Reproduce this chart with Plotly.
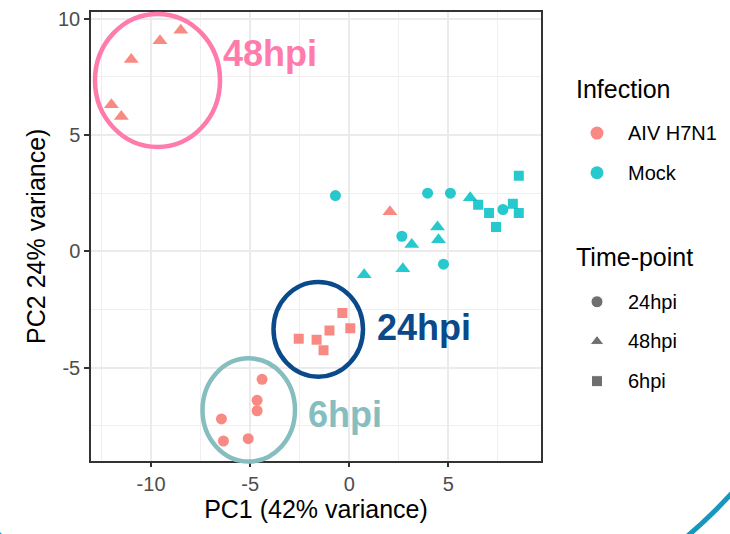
import plotly.graph_objects as go

W, H = 730, 534

# ---- data ----
aiv_48_x = [-11.0, -9.55, -8.5, -12.0, -11.5, 2.05]
aiv_48_y = [8.25, 9.05, 9.5, 6.3, 5.8, 1.7]
aiv_24_x = [-4.4, -4.65, -4.65, -6.45, -6.35, -5.1]
aiv_24_y = [-5.5, -6.4, -6.85, -7.2, -8.15, -8.05]
aiv_6_x = [-0.35, -1.0, 0.05, -1.65, -1.3, -2.55]
aiv_6_y = [-2.65, -3.4, -3.3, -3.8, -4.25, -3.75]
mock_24_x = [-0.7, 3.95, 5.1, 2.65, 4.75, 7.75]
mock_24_y = [2.4, 2.5, 2.5, 0.65, -0.55, 1.8]
mock_48_x = [6.1, 4.45, 4.5, 3.15, 2.7, 0.75]
mock_48_y = [2.3, 1.05, 0.5, 0.3, -0.75, -1.0]
mock_6_x = [8.55, 6.5, 7.05, 7.4, 8.25, 8.55]
mock_6_y = [3.25, 2.0, 1.65, 1.05, 2.05, 1.65]

infection_labels = ["AIV H7N1", "Mock"]
time_labels = ["24hpi", "48hpi", "6hpi"]
x_ticks = [-10, -5, 0, 5]
y_ticks = [-5, 0, 5, 10]

AIV_COL = "#F8766D"
MOCK_COL = "#00BFC4"
FONT = "Liberation Sans, Arial, sans-serif"

# panel in pixels
PL, PR, PT, PB = 91, 541, 8, 460

def px(xp):
    return xp / W

def py(yp):
    return 1 - yp / H

fig = go.Figure()

groups = [
    (aiv_24_x, aiv_24_y, AIV_COL, "circle", 11),
    (aiv_48_x, aiv_48_y, AIV_COL, "triangle-up", 13),
    (aiv_6_x, aiv_6_y, AIV_COL, "square", 10),
    (mock_24_x, mock_24_y, MOCK_COL, "circle", 11),
    (mock_48_x, mock_48_y, MOCK_COL, "triangle-up", 13),
    (mock_6_x, mock_6_y, MOCK_COL, "square", 10),
]
for gx, gy, col, sym, sz in groups:
    fig.add_trace(go.Scatter(
        x=gx, y=gy, mode="markers", showlegend=False, hoverinfo="skip",
        marker=dict(color=col, symbol=sym, size=sz, opacity=0.85, line=dict(width=0)),
    ))

# legend keys on a hidden pixel-space axis covering the whole figure
leg_inf_y = [130, 170]
leg_time_y = [300, 340, 380]
fig.add_trace(go.Scatter(
    x=[597, 597], y=leg_inf_y, mode="markers", xaxis="x2", yaxis="y2",
    showlegend=False, hoverinfo="skip",
    marker=dict(color=[AIV_COL, MOCK_COL], symbol="circle", size=13, opacity=0.85),
))
fig.add_trace(go.Scatter(
    x=[597, 597, 597], y=leg_time_y, mode="markers", xaxis="x2", yaxis="y2",
    showlegend=False, hoverinfo="skip",
    marker=dict(color="#333333", symbol=["circle", "triangle-up", "square"], size=[12, 12, 11]),
))

annotations = []
annotations.append(dict(x=px(574), y=py(86), text="Infection", showarrow=False,
                        xref="paper", yref="paper", xanchor="left", yanchor="middle",
                        font=dict(family=FONT, size=25, color="#000000")))
annotations.append(dict(x=px(574), y=py(255), text="Time-point", showarrow=False,
                        xref="paper", yref="paper", xanchor="left", yanchor="middle",
                        font=dict(family=FONT, size=25, color="#000000")))
for lab, yy in zip(infection_labels, leg_inf_y):
    annotations.append(dict(x=px(626), y=py(yy), text=lab, showarrow=False,
                            xref="paper", yref="paper", xanchor="left", yanchor="middle",
                            font=dict(family=FONT, size=20, color="#000000")))
for lab, yy in zip(time_labels, leg_time_y):
    annotations.append(dict(x=px(626), y=py(yy), text=lab, showarrow=False,
                            xref="paper", yref="paper", xanchor="left", yanchor="middle",
                            font=dict(family=FONT, size=20, color="#000000")))

# highlighted cluster labels
for txt, cx, cy, col in [("48hpi", 270, 50, "#FF7BAC"),
                         ("24hpi", 424, 326, "#0B4A8A"),
                         ("6hpi", 345, 414, "#86BDBF")]:
    annotations.append(dict(x=px(cx), y=py(cy), text="<b>%s</b>" % txt, showarrow=False,
                            xref="paper", yref="paper", xanchor="center", yanchor="middle",
                            font=dict(family=FONT, size=36, color=col)))

shapes = []
for (x0, y0, x1, y1, col) in [(95, 10, 220, 144, "#FF7BAC"),
                              (273.5, 280, 363, 375.5, "#0B4A8A"),
                              (202.5, 357, 295, 461, "#86BDBF")]:
    shapes.append(dict(type="circle", xref="paper", yref="paper",
                       x0=px(x0), x1=px(x1), y0=py(y1), y1=py(y0),
                       line=dict(color=col, width=4.5), layer="above"))
# decorative arc from slide
cxp, cyp, r = 344, 139, 525
shapes.append(dict(type="circle", xref="paper", yref="paper",
                   x0=px(cxp - r), x1=px(cxp + r), y0=py(cyp + r), y1=py(cyp - r),
                   line=dict(color="#1697BE", width=5), layer="above"))

axis_common = dict(
    showline=True, linecolor="#333333", linewidth=1.5, mirror=True,
    ticks="outside", ticklen=5, tickcolor="#333333", tickwidth=1.5,
    showgrid=True, gridcolor="#EBEBEB", gridwidth=1.5, zeroline=False,
    tickfont=dict(family=FONT, size=20, color="#4D4D4D"),
    minor=dict(dtick=2.5, showgrid=True, gridcolor="#EFEFEF", gridwidth=1, ticks=""),
)

fig.update_layout(
    width=W, height=H,
    margin=dict(l=0, r=0, t=0, b=0),
    paper_bgcolor="white", plot_bgcolor="rgba(0,0,0,0)",
    xaxis=dict(domain=[PL / W, PR / W], range=[-13.03, 9.67],
               tickvals=x_ticks, ticktext=[str(v) for v in x_ticks],
               title=dict(text="PC1 (42% variance)", standoff=6,
                          font=dict(family=FONT, size=25, color="#000000")),
               **axis_common),
    yaxis=dict(domain=[1 - PB / H, 1 - PT / H], range=[-8.99, 10.29],
               tickvals=y_ticks, ticktext=[str(v) for v in y_ticks],
               title=dict(text="PC2 24% variance)", standoff=5,
                          font=dict(family=FONT, size=25, color="#000000")),
               **axis_common),
    xaxis2=dict(domain=[0, 1], range=[0, W], visible=False, anchor="y2"),
    yaxis2=dict(domain=[0, 1], range=[H, 0], visible=False, anchor="x2"),
    annotations=annotations,
    shapes=shapes,
    showlegend=False,
)

fig.write_html("out.html", config={"displayModeBar": False},
               post_script="document.body.style.margin='0';")
